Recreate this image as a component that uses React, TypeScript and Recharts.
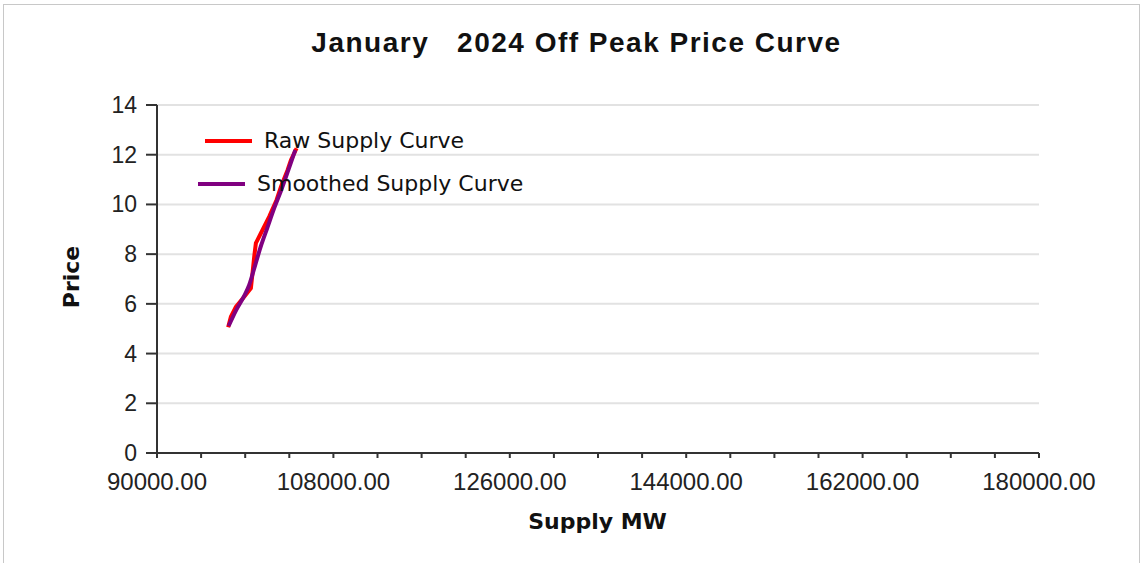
import { CartesianGrid, Line, LineChart, XAxis, YAxis } from "recharts";

// values
const rawSupplyMW = [97260, 97540, 98050, 98900, 99580, 99745, 99920, 100090, 100600, 101450, 102200, 102650, 103320, 103670, 104245];
const rawPrice = [5.06, 5.48, 5.88, 6.29, 6.63, 7.23, 7.9, 8.44, 8.84, 9.51, 10.18, 10.71, 11.38, 11.79, 12.26];

const smoothSupplyMW = [97310, 98080, 98900, 99410, 100020, 100640, 101250, 101970, 102680, 103400, 104110];
const smoothPrice = [5.11, 5.75, 6.32, 6.76, 7.56, 8.37, 9.05, 9.86, 10.58, 11.38, 12.19];

const priceTicks = [0, 2, 4, 6, 8, 10, 12, 14];
const supplyTicks = [
  90000, 94500, 99000, 103500, 108000, 112500, 117000, 121500, 126000, 130500, 135000, 139500, 144000,
  148500, 153000, 157500, 162000, 166500, 171000, 175500, 180000,
];
const labelledSupply = [90000, 108000, 126000, 144000, 162000, 180000];

const RAW_COLOR = "#ff0000";
const SMOOTH_COLOR = "#800080";
const AXIS = "#333333";
const TICK_FONT = '"Liberation Sans", Arial, sans-serif';
const LABEL_FONT = '"DejaVu Sans", Verdana, sans-serif';
const TITLE_FONT = '"Liberation Sans", Arial, sans-serif';

const rawData = rawSupplyMW.map((mw, i) => ({ mw, price: rawPrice[i] }));
const smoothData = smoothSupplyMW.map((mw, i) => ({ mw, price: smoothPrice[i] }));

function SupplyTick(props: any) {
  const { x, y, payload } = props;
  if (!labelledSupply.includes(payload.value)) return null;
  return (
    <text x={x} y={y} dy={24} textAnchor="middle" fill="#222" fontSize={24} fontFamily={TICK_FONT}>
      {payload.value.toFixed(2)}
    </text>
  );
}

function PriceTick(props: any) {
  const { x, y, payload } = props;
  return (
    <text x={x} y={y} dy={8} textAnchor="end" fill="#222" fontSize={23} fontFamily={TICK_FONT}>
      {payload.value}
    </text>
  );
}

function LegendRow({ top, left, color, label }: { top: number; left: number; color: string; label: string }) {
  return (
    <div style={{ position: "absolute", top, left, display: "flex", alignItems: "center" }}>
      <div style={{ width: 47, height: 4, background: color }} />
      <span style={{ marginLeft: 12, fontFamily: LABEL_FONT, fontSize: 22, color: "#111", lineHeight: "26px" }}>
        {label}
      </span>
    </div>
  );
}

export default function App() {
  return (
    <div
      style={{
        position: "absolute",
        left: 0,
        top: 0,
        width: 1143,
        height: 563,
        background: "#fff",
        overflow: "hidden",
      }}
    >
      <div
        style={{
          position: "absolute",
          left: 3,
          top: 4,
          width: 1137,
          height: 570,
          border: "1px solid #c8c8c8",
          boxSizing: "border-box",
        }}
      />
      <div
        style={{
          position: "absolute",
          top: 27,
          left: 0,
          width: 1153,
          textAlign: "center",
          fontFamily: TITLE_FONT,
          fontWeight: "bold",
          fontSize: 28,
          letterSpacing: 1.5,
          color: "#111",
          whiteSpace: "pre",
        }}
      >
        {"January   2024 Off Peak Price Curve"}
      </div>

      <LineChart width={1143} height={563} margin={{ top: 105, right: 104, bottom: 50, left: 57 }}>
        <CartesianGrid stroke="#e2e2e2" strokeWidth={2} vertical={false} />
        <XAxis
          dataKey="mw"
          type="number"
          domain={[90000, 180000]}
          ticks={supplyTicks}
          interval={0}
          height={60}
          tick={<SupplyTick />}
          tickSize={5}
          tickMargin={8}
          stroke={AXIS}
          strokeWidth={2}
          allowDataOverflow
        />
        <YAxis
          dataKey="price"
          type="number"
          domain={[0, 14]}
          ticks={priceTicks}
          interval={0}
          width={100}
          tick={<PriceTick />}
          tickSize={11}
          tickMargin={9}
          stroke={AXIS}
          strokeWidth={2}
        />
        <Line
          data={rawData}
          dataKey="price"
          type="linear"
          stroke={RAW_COLOR}
          strokeWidth={4}
          dot={false}
          isAnimationActive={false}
        />
        <Line
          data={smoothData}
          dataKey="price"
          type="monotone"
          stroke={SMOOTH_COLOR}
          strokeWidth={4}
          dot={false}
          isAnimationActive={false}
        />
      </LineChart>

      <LegendRow top={128} left={205} color={RAW_COLOR} label="Raw Supply Curve" />
      <LegendRow top={171} left={198} color={SMOOTH_COLOR} label="Smoothed Supply Curve" />

      <div
        style={{
          position: "absolute",
          top: 509,
          left: 0,
          width: 1195,
          textAlign: "center",
          fontFamily: LABEL_FONT,
          fontWeight: "bold",
          fontSize: 22,
          color: "#111",
        }}
      >
        Supply MW
      </div>
      <div
        style={{
          position: "absolute",
          left: 71,
          top: 277,
          transform: "translate(-50%, -50%) rotate(-90deg)",
          fontFamily: LABEL_FONT,
          fontWeight: "bold",
          fontSize: 22,
          color: "#111",
          whiteSpace: "nowrap",
        }}
      >
        Price
      </div>
    </div>
  );
}
